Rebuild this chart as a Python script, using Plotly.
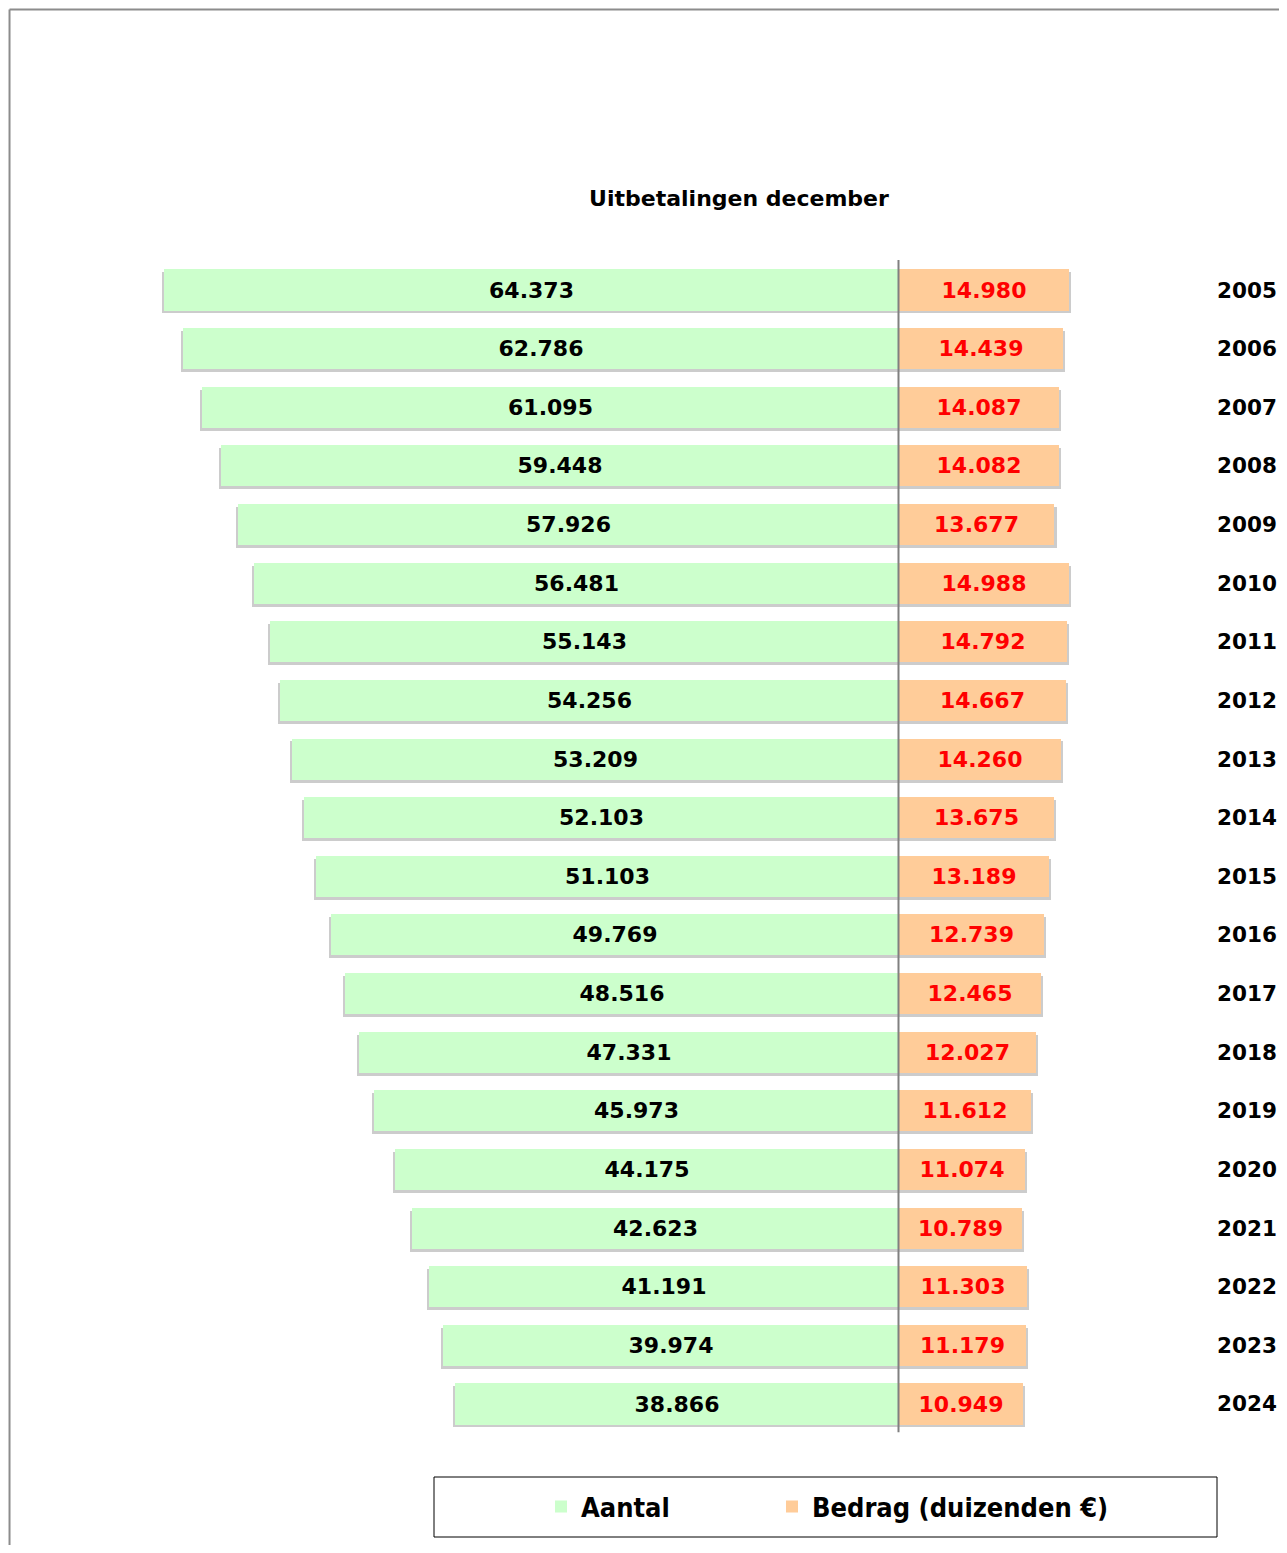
import plotly.graph_objects as go

years = list(range(2005, 2025))
aantal = [64373, 62786, 61095, 59448, 57926, 56481, 55143, 54256, 53209, 52103,
          51103, 49769, 48516, 47331, 45973, 44175, 42623, 41191, 39974, 38866]
bedrag = [14980, 14439, 14087, 14082, 13677, 14988, 14792, 14667, 14260, 13675,
          13189, 12739, 12465, 12027, 11612, 11074, 10789, 11303, 11179, 10949]
year_labels = [str(y) for y in years]

GREEN = "#CCFFCC"
ORANGE = "#FFCC99"
SHADOW = "rgba(0,0,0,0.20)"
W, H = 1271, 1537
BAR_W = 0.70
FONT = "DejaVu Sans"
LEG_FONT = dict(family="Liberation Sans Narrow, DejaVu Sans Condensed", size=27,
                color="#000000", weight="bold")


def nl(v):
    return f"{v:,}".replace(",", ".")


fig = go.Figure()

# soft shadows (behind the bars)
fig.add_trace(go.Bar(y=years, x=[-v - 180 for v in aantal], orientation="h",
                     width=BAR_W, offset=-BAR_W / 2 + 0.05, marker_color=SHADOW,
                     marker_line_width=0, showlegend=False, hoverinfo="skip"))
fig.add_trace(go.Bar(y=years, x=[v + 180 for v in bedrag], orientation="h",
                     width=BAR_W, offset=-BAR_W / 2 + 0.05, marker_color=SHADOW,
                     marker_line_width=0, showlegend=False, hoverinfo="skip"))

fig.add_trace(go.Bar(
    y=years, x=[-v for v in aantal], orientation="h", name="Aantal", legend="legend",
    width=BAR_W, marker_color=GREEN, marker_line_width=0,
    text=[nl(v) for v in aantal], textposition="inside", insidetextanchor="middle",
    textfont=dict(family=FONT, size=22, color="#000000", weight="bold"),
    constraintext="none",
))
fig.add_trace(go.Bar(
    y=years, x=bedrag, orientation="h", name="Bedrag (duizenden €)", legend="legend2",
    width=BAR_W, marker_color=ORANGE, marker_line_width=0,
    text=[nl(v) for v in bedrag], textposition="inside", insidetextanchor="middle",
    textfont=dict(family=FONT, size=22, color="#FF0000", weight="bold"),
    constraintext="none",
))

# year labels on the right
for y, lab in zip(years, year_labels):
    fig.add_annotation(x=1.0, xref="paper", y=y, yref="y", text=lab,
                       showarrow=False, xanchor="right", yanchor="middle",
                       font=dict(family=FONT, size=21.5, color="#000000", weight="bold"))

# central axis line
fig.add_shape(type="line", xref="x", yref="y", x0=0, x1=0,
              y0=years[0] - 0.51, y1=years[-1] + 0.48,
              line=dict(color="#808080", width=2), layer="above")

# outer frame (left & top visible)
fig.add_shape(type="line", xref="paper", yref="paper", x0=0.0012, x1=0.0012, y0=-0.01, y1=0.999,
              line=dict(color="#8C8C8C", width=2))
fig.add_shape(type="line", xref="paper", yref="paper", x0=0.0012, x1=1.01, y0=0.999, y1=0.999,
              line=dict(color="#8C8C8C", width=2))

# legend box
fig.add_shape(type="rect", xref="paper", yref="paper",
              x0=426 / W, x1=1209 / W, y0=1 - 1529 / H, y1=1 - 1469 / H,
              line=dict(color="#000000", width=1), fillcolor="rgba(0,0,0,0)")

leg_common = dict(orientation="h", xanchor="left", yanchor="middle",
                  bgcolor="rgba(0,0,0,0)", borderwidth=0, itemwidth=30, font=LEG_FONT)

fig.update_layout(
    width=W, height=H,
    margin=dict(l=0, r=0, t=0, b=0),
    paper_bgcolor="white", plot_bgcolor="white",
    barmode="overlay", bargap=0,
    title=dict(text="Uitbetalingen december", x=731 / W, y=1 - 190 / H,
               xanchor="center", yanchor="middle",
               font=dict(family=FONT, size=22, color="#000000", weight="bold")),
    xaxis=dict(visible=False, range=[-78097, 33370], fixedrange=True),
    yaxis=dict(visible=False, range=[2026.405, 2000.190], fixedrange=True),
    showlegend=True,
    legend=dict(x=533 / W, y=1 - 1499 / H, **leg_common),
    legend2=dict(x=764 / W, y=1 - 1499 / H, **leg_common),
)

fig.write_html("out.html")
